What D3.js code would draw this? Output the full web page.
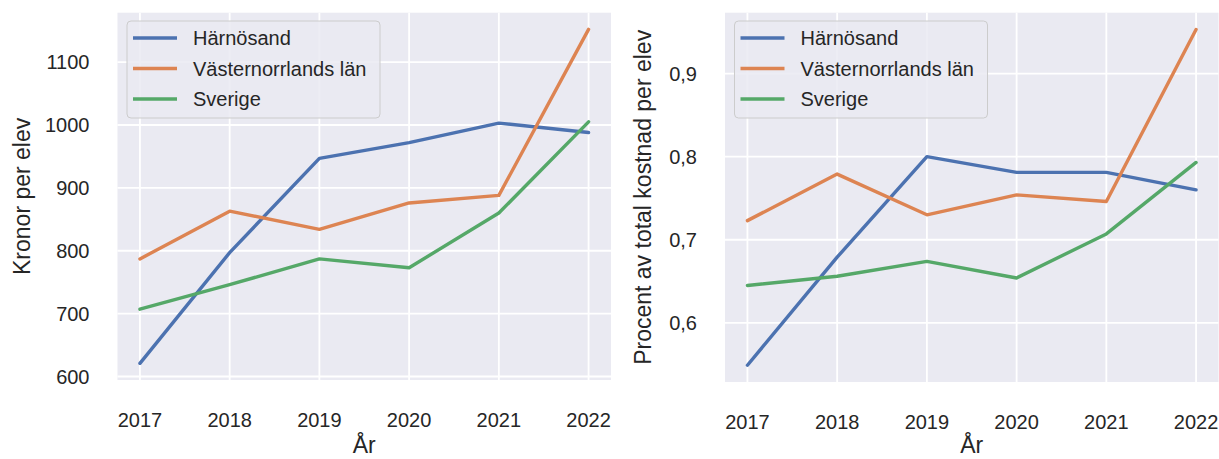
<!DOCTYPE html>
<html>
<head>
    <meta charset="utf-8">
    <script src="https://cdnjs.cloudflare.com/ajax/libs/d3/7.8.5/d3.min.js"></script>
    <style>
        body { margin: 0; background: #fff; }
        svg { display: block; }
        text {
            font-family: "Liberation Sans", Arial, sans-serif;
            fill: #262626;
        }
        .grid line { stroke: #fff; stroke-width: 1.8px; }
        .tick-label { font-size: 20px; }
        .axis-label { font-size: 23px; }
        .legend text { font-size: 20px; }
    </style>
</head>
<body>
    <div id="chart"></div>
    <script>
        // Data
        const years = [2017, 2018, 2019, 2020, 2021, 2022];
        const seriesNames = ["Härnösand", "Västernorrlands län", "Sverige"];
        const colors = ["#4c72b0", "#dd8452", "#55a868"];

        // Kronor per elev
        const kronorHarnosand = [621, 797, 947, 972, 1003, 988];
        const kronorLan = [787, 863, 834, 876, 888, 1152];
        const kronorSverige = [707, 746, 787, 773, 860, 1005];

        // Procent av total kostnad per elev
        const procentHarnosand = [0.549, 0.679, 0.800, 0.781, 0.781, 0.760];
        const procentLan = [0.723, 0.779, 0.730, 0.754, 0.746, 0.953];
        const procentSverige = [0.645, 0.656, 0.674, 0.654, 0.707, 0.793];

        const kronorTicks = [600, 700, 800, 900, 1000, 1100];
        const procentTicks = [0.6, 0.7, 0.8, 0.9];

        const width = 1219;
        const height = 459;

        const svg = d3.select("#chart")
            .append("svg")
            .attr("width", width)
            .attr("height", height);

        // Swedish decimal comma
        const sv = d3.formatLocale({ decimal: ",", thousands: "\u00a0", grouping: [3], currency: ["", " kr"] });

        const panels = [
            {
                left: 117.5, right: 611, top: 12.7, bottom: 380,
                series: [kronorHarnosand, kronorLan, kronorSverige],
                ticks: kronorTicks,
                format: sv.format("d"),
                ylabel: "Kronor per elev",
                ylabelX: 22
            },
            {
                left: 725, right: 1218.5, top: 12.7, bottom: 382,
                series: [procentHarnosand, procentLan, procentSverige],
                ticks: procentTicks,
                format: sv.format(".1f"),
                ylabel: "Procent av total kostnad per elev",
                ylabelX: 643
            }
        ];

        panels.forEach(drawPanel);

        function drawPanel(p) {
            const g = svg.append("g");

            // matplotlib-like 5% margins
            const xPad = (years[years.length - 1] - years[0]) * 0.05;
            const x = d3.scaleLinear()
                .domain([years[0] - xPad, years[years.length - 1] + xPad])
                .range([p.left, p.right]);

            const ext = d3.extent(p.series.flat());
            const yPad = (ext[1] - ext[0]) * 0.05;
            const y = d3.scaleLinear()
                .domain([ext[0] - yPad, ext[1] + yPad])
                .range([p.bottom, p.top]);

            // background
            g.append("rect")
                .attr("x", p.left)
                .attr("y", p.top)
                .attr("width", p.right - p.left)
                .attr("height", p.bottom - p.top)
                .attr("fill", "#eaeaf2");

            // grid
            const grid = g.append("g").attr("class", "grid");
            grid.selectAll(".vx")
                .data(years)
                .join("line")
                .attr("x1", d => x(d)).attr("x2", d => x(d))
                .attr("y1", p.top).attr("y2", p.bottom);
            grid.selectAll(".hy")
                .data(p.ticks)
                .join("line")
                .attr("x1", p.left).attr("x2", p.right)
                .attr("y1", d => y(d)).attr("y2", d => y(d));

            // tick labels
            g.append("g").selectAll("text")
                .data(years)
                .join("text")
                .attr("class", "tick-label")
                .attr("x", d => x(d))
                .attr("y", p.bottom + 47)
                .attr("text-anchor", "middle")
                .text(d => d);

            g.append("g").selectAll("text")
                .data(p.ticks)
                .join("text")
                .attr("class", "tick-label")
                .attr("x", p.left - 28)
                .attr("y", d => y(d))
                .attr("dy", "0.35em")
                .attr("text-anchor", "end")
                .text(d => p.format(d));

            // axis labels
            g.append("text")
                .attr("class", "axis-label")
                .attr("x", (p.left + p.right) / 2)
                .attr("y", 453)
                .attr("text-anchor", "middle")
                .text("År");

            g.append("text")
                .attr("class", "axis-label")
                .attr("transform", `translate(${p.ylabelX},${(p.top + p.bottom) / 2}) rotate(-90)`)
                .attr("dy", "0.35em")
                .attr("text-anchor", "middle")
                .text(p.ylabel);

            // lines
            const line = d3.line()
                .x((d, i) => x(years[i]))
                .y(d => y(d));

            g.append("g").selectAll("path")
                .data(p.series)
                .join("path")
                .attr("d", line)
                .attr("fill", "none")
                .attr("stroke", (d, i) => colors[i])
                .attr("stroke-width", 3.4)
                .attr("stroke-linejoin", "round")
                .attr("stroke-linecap", "round");

            // legend
            const lx = p.left + 9.5;
            const ly = p.top + 8.3;
            const legend = g.append("g").attr("class", "legend");
            legend.append("rect")
                .attr("x", lx)
                .attr("y", ly)
                .attr("width", 253)
                .attr("height", 97)
                .attr("rx", 4)
                .attr("fill", "#eaeaf2")
                .attr("fill-opacity", 0.85)
                .attr("stroke", "#cccccc")
                .attr("stroke-width", 1);

            const items = legend.selectAll(".item")
                .data(seriesNames)
                .join("g")
                .attr("transform", (d, i) => `translate(${lx},${ly + 17 + i * 30.5})`);
            items.append("line")
                .attr("x1", 6).attr("x2", 50)
                .attr("y1", 0).attr("y2", 0)
                .attr("stroke", (d, i) => colors[i])
                .attr("stroke-width", 3.4);
            items.append("text")
                .attr("x", 66)
                .attr("dy", "0.35em")
                .text(d => d);
        }
    </script>
</body>
</html>
